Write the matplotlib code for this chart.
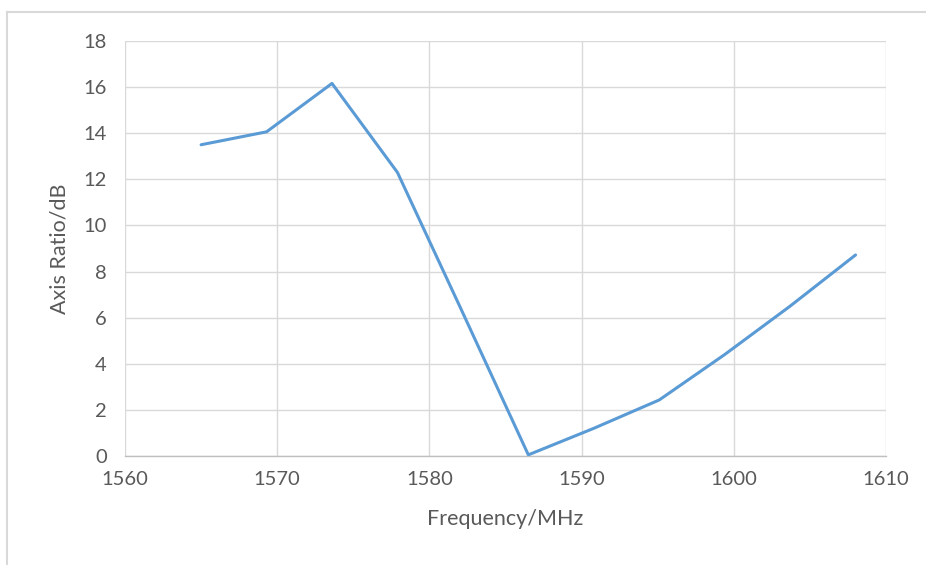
import matplotlib
matplotlib.use("Agg")
import matplotlib.pyplot as plt
from matplotlib.lines import Line2D

# data
freq = [1565.0, 1569.3, 1573.6, 1577.9, 1582.2, 1586.5, 1590.8, 1595.1, 1599.4, 1603.7, 1608.0]
axial_ratio = [13.5, 14.06, 16.16, 12.3, 6.2, 0.05, 1.2, 2.43, 4.4, 6.5, 8.72]

x_ticks = [1560, 1570, 1580, 1590, 1600, 1610]
y_ticks = [0, 2, 4, 6, 8, 10, 12, 14, 16, 18]

plt.rcParams['font.family'] = ['Lato', 'DejaVu Sans']

W, H = 926, 565
fig = plt.figure(figsize=(W / 100, H / 100), dpi=100)
ax = fig.add_axes([125 / W, 1 - 456 / H, (886 - 125) / W, (456 - 41) / H])

ax.plot(freq, axial_ratio, color='#5b9bd5', lw=2.2, solid_joinstyle='round',
        solid_capstyle='round', zorder=3)

ax.set_xlim(1560, 1610)
ax.set_ylim(0, 18)
ax.set_xticks(x_ticks)
ax.set_yticks(y_ticks)
ax.grid(True, color='#d9d9d9', lw=1)
ax.set_axisbelow(True)
for s in ['top', 'right', 'left']:
    ax.spines[s].set_visible(False)
ax.spines['bottom'].set_color('#bfbfbf')
ax.spines['bottom'].set_linewidth(1)
ax.tick_params(length=0, labelsize=14.5, colors='#595959')
ax.tick_params(axis='y', pad=13)
ax.tick_params(axis='x', pad=11)

ax.set_xlabel('Frequency/MHz', fontsize=15.5, color='#595959', labelpad=15)
ax.set_ylabel('Axis Ratio/dB', fontsize=15.5, color='#595959', labelpad=10)

# light frame of the chart area (top and left edges visible)
fig.add_artist(Line2D([7 / W, 1.0], [1 - 12 / H, 1 - 12 / H], transform=fig.transFigure,
                      color='#d9d9d9', lw=1.5))
fig.add_artist(Line2D([7 / W, 7 / W], [1 - 12 / H, 0.0], transform=fig.transFigure,
                      color='#d9d9d9', lw=1.5))

fig.savefig('out.png', dpi=100)
